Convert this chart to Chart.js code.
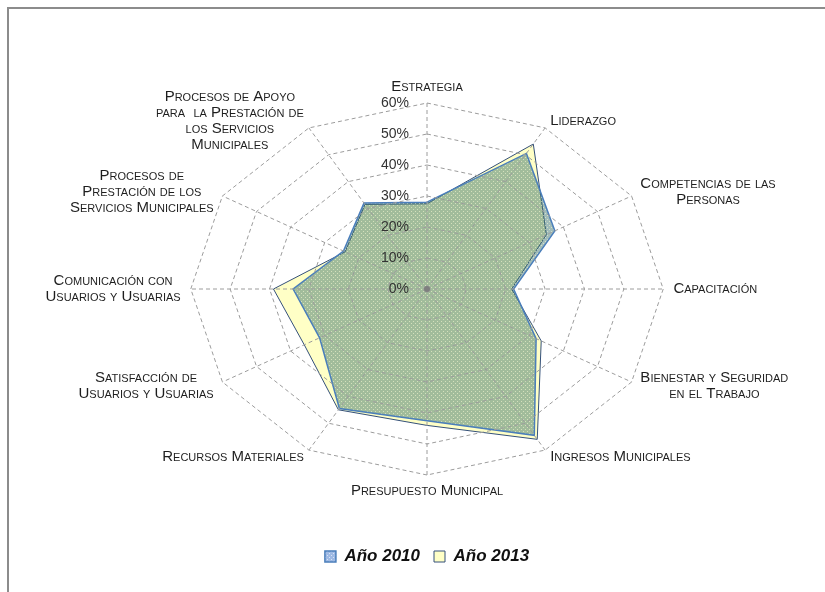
<!DOCTYPE html>
<html>
<head>
<meta charset="utf-8">
<script src="https://cdn.jsdelivr.net/npm/chart.js@4/dist/chart.umd.min.js"></script>
<style>
  html, body { margin: 0; padding: 0; background: #fff; }
  #wrap { position: relative; width: 825px; height: 592px; overflow: hidden; }
  #frame { position: absolute; left: 7px; top: 7px; width: 900px; height: 700px;
           border-top: 2px solid #8c8c8c; border-left: 2px solid #8c8c8c; pointer-events: none; }
</style>
</head>
<body>
<div id="wrap">
  <canvas id="radar" width="825" height="592"></canvas>
  <div id="frame"></div>
</div>
<script>
// areas of the evaluation, clockwise from the top
const areas = [
  ['Estrategia'],
  ['Liderazgo'],
  ['Competencias de las', 'Personas'],
  ['Capacitación'],
  ['Bienestar y Seguridad', 'en el Trabajo'],
  ['Ingresos Municipales'],
  ['Presupuesto Municipal'],
  ['Recursos Materiales'],
  ['Satisfacción de', 'Usuarios y Usuarias'],
  ['Comunicación con', 'Usuarios y Usuarias'],
  ['Procesos de', 'Prestación de los', 'Servicios Municipales'],
  ['Procesos de Apoyo', 'para  la Prestación de', 'los Servicios', 'Municipales']
];
const year2010 = [28, 50.5, 37.5, 22, 32, 54.5, 42.5, 44.5, 31.5, 34, 24.5, 32];
const year2013 = [27.5, 54, 35, 21.5, 33.5, 56, 44, 45, 36, 39, 24, 31.5];
const seriesNames = ['Año 2010', 'Año 2013'];
const scaleMax = 60;
const scaleStep = 10;

const fontFamily = '"Liberation Sans", Arial, sans-serif';
const xStretch = 1.27;   // the web is wider than tall
const labelRoom = 49;    // space kept around the web for the area names
const labelGap = 8;
const lineStep = 16;

Chart.defaults.font.family = fontFamily;

// dotted fill
function dotPattern(base, dot) {
  const c = document.createElement('canvas');
  c.width = 4; c.height = 4;
  const g = c.getContext('2d');
  g.fillStyle = base;
  g.fillRect(0, 0, 4, 4);
  g.fillStyle = dot;
  g.fillRect(1, 1, 1, 1);
  g.fillRect(3, 3, 1, 1);
  return g.createPattern(c, 'repeat');
}
const fill2010 = dotPattern('rgba(58,115,108,0.48)', 'rgba(255,255,215,0.55)');
const legendBox2010 = dotPattern('rgba(95,140,210,0.6)', 'rgba(255,255,255,0.6)');

class StretchedRadialScale extends Chart.RadialLinearScale {
  static id = 'stretchedRadial';

  fit() {
    super.fit();
    this.drawingArea -= labelRoom;
  }

  getPointPosition(index, distance, additionalAngle = 0) {
    const p = super.getPointPosition(index, distance, additionalAngle);
    return { x: this.xCenter + (p.x - this.xCenter) * xStretch, y: p.y, angle: p.angle };
  }

  // tick labels sit left of the vertical axis
  drawLabels() {
    const ctx = this.ctx;
    ctx.save();
    ctx.font = '14px ' + fontFamily;
    ctx.fillStyle = '#333';
    ctx.textAlign = 'right';
    ctx.textBaseline = 'middle';
    this.ticks.forEach(t => {
      const y = this.yCenter - this.getDistanceFromCenterForValue(t.value);
      ctx.fillText(t.label, this.xCenter - 18, y);
    });
    ctx.fillStyle = '#7f7f7f';
    ctx.beginPath();
    ctx.arc(this.xCenter, this.yCenter, 3, 0, Math.PI * 2);
    ctx.fill();
    ctx.restore();
  }
}
Chart.register(StretchedRadialScale);

const areaLabels = {
  id: 'areaLabels',
  afterDraw(chart) {
    const scale = chart.scales.r;
    const ctx = chart.ctx;
    ctx.save();
    ctx.font = 'small-caps 15px ' + fontFamily;
    ctx.fontVariantCaps = 'small-caps';
    ctx.fillStyle = '#1e1e1e';
    ctx.textAlign = 'center';
    ctx.textBaseline = 'middle';
    areas.forEach((lines, i) => {
      const deg = Math.round(i * 360 / areas.length);
      const p = scale.getPointPosition(i, scale.drawingArea + labelGap);
      const w = Math.max(...lines.map(l => ctx.measureText(l).width));
      const h = lines.length * lineStep;
      let cx = p.x;
      let top = p.y - h / 2;
      if (deg === 0) top = p.y - h;
      else if (deg === 180) top = p.y;
      else if (deg < 180) cx = p.x + w / 2;
      else cx = p.x - w / 2;
      lines.forEach((l, k) => ctx.fillText(l, cx, top + lineStep * (k + 0.5)));
    });
    ctx.restore();
  }
};

new Chart(document.getElementById('radar'), {
  type: 'radar',
  data: {
    labels: areas,
    datasets: [{
      label: seriesNames[0],
      data: year2010,
      backgroundColor: fill2010,
      borderColor: '#4a7ebb',
      borderWidth: 1.5,
      fill: true,
      pointRadius: 0
    }, {
      label: seriesNames[1],
      data: year2013,
      backgroundColor: '#ffffc6',
      borderColor: '#34507a',
      borderWidth: 1,
      fill: true,
      pointRadius: 0
    }]
  },
  options: {
    responsive: false,
    animation: false,
    layout: { padding: { top: 45, bottom: 17, left: 29, right: 0 } },
    elements: { line: { tension: 0 } },
    scales: {
      r: {
        type: 'stretchedRadial',
        min: 0,
        max: scaleMax,
        ticks: { stepSize: scaleStep, z: 1, font: { size: 14 }, callback: v => v + '%' },
        grid: { color: '#9c9c9c', lineWidth: 1, z: 1 },
        border: { dash: [4, 3] },
        angleLines: { color: '#9c9c9c', lineWidth: 1, borderDash: [4, 3] },
        pointLabels: { display: false }
      }
    },
    plugins: {
      legend: {
        position: 'bottom',
        labels: {
          boxWidth: 11,
          boxHeight: 11,
          padding: 14,
          color: '#111',
          font: { size: 17, style: 'italic', weight: 'bold' },
          generateLabels(chart) {
            const items = Chart.defaults.plugins.legend.labels.generateLabels(chart);
            items[0].fillStyle = legendBox2010;
            return items;
          }
        }
      },
      tooltip: { enabled: false }
    }
  },
  plugins: [areaLabels]
});
</script>
</body>
</html>
